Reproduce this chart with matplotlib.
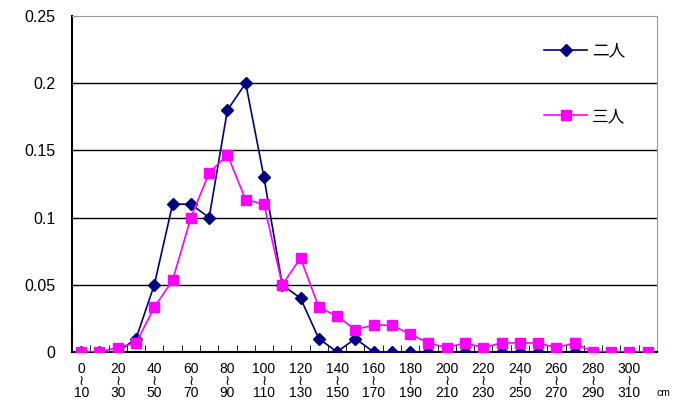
import matplotlib
matplotlib.use("Agg")
import matplotlib.pyplot as plt
import numpy as np

plt.rcParams["font.family"] = ["Liberation Sans", "DejaVu Sans", "Noto Sans CJK JP"]

# distance bins, 10 cm wide, 0-10 ... 310-320
bin_starts = list(range(0, 320, 10))

# relative frequency per bin
two_people = [0, 0, 0, 0.01, 0.05, 0.11, 0.11, 0.10, 0.18, 0.20, 0.13, 0.05,
              0.04, 0.01, 0, 0.01, 0, 0, 0, 0, 0, 0, 0, 0, 0, 0, 0, 0]
three_people = [0, 0, 0.0033, 0.0067, 0.0333, 0.0533, 0.10, 0.1333, 0.1467,
                0.1133, 0.11, 0.05, 0.07, 0.0333, 0.0267, 0.0167, 0.02, 0.02,
                0.0133, 0.0067, 0.0033, 0.0067, 0.0033, 0.0067, 0.0067, 0.0067,
                0.0033, 0.0067, 0, 0, 0, 0]

series_labels = ["二人", "三人"]
y_ticks = [0, 0.05, 0.1, 0.15, 0.2, 0.25]
y_tick_labels = ["0", "0.05", "0.1", "0.15", "0.2", "0.25"]

fig = plt.figure(figsize=(6.8, 4.0), dpi=100)
ax = fig.add_axes([0.106, 0.12, 0.86, 0.84])

x = np.arange(len(bin_starts))
ax.plot(np.arange(len(two_people)), two_people, color="#000080", lw=1.2,
        marker="D", markersize=6, label=series_labels[0], zorder=3)
ax.plot(x, three_people, color="#FF00FF", lw=1.2,
        marker="s", markersize=7.5, label=series_labels[1], zorder=4)

ax.set_xlim(-0.5, len(bin_starts) - 0.5)
ax.set_ylim(0, 0.25)

# horizontal gridlines
for yv in y_ticks[1:-1]:
    ax.axhline(yv, color="black", lw=1.0, zorder=1)

ax.set_yticks(y_ticks)
ax.set_yticklabels(y_tick_labels, fontsize=11.5)
ax.tick_params(axis="y", direction="in", length=4, pad=12)

# labels on every other bin, tick marks at bin boundaries
ax.set_xticks(x[::2])
ax.set_xticklabels([f"{b}\n≀\n{b + 10}" for b in bin_starts[::2]],
                   fontsize=10, linespacing=0.85)
ax.tick_params(axis="x", which="major", length=0, pad=7)
ax.set_xticks(np.arange(-0.5, len(bin_starts), 1), minor=True)
ax.tick_params(axis="x", which="minor", direction="in", length=5)

for side in ("top", "right"):
    ax.spines[side].set_color("#999999")
for side in ("left", "bottom"):
    ax.spines[side].set_color("black")
    ax.spines[side].set_linewidth(1.5)

fig.text(0.966, 0.004, "cm", fontsize=7.5, ha="left", va="bottom")

ax.legend(loc="upper right", bbox_to_anchor=(0.972, 0.965), frameon=False,
          labelspacing=2.9, handlelength=2.6, handletextpad=0.3,
          prop={"family": ["Noto Sans CJK JP"], "size": 12})

fig.savefig("out.png", dpi=100)
